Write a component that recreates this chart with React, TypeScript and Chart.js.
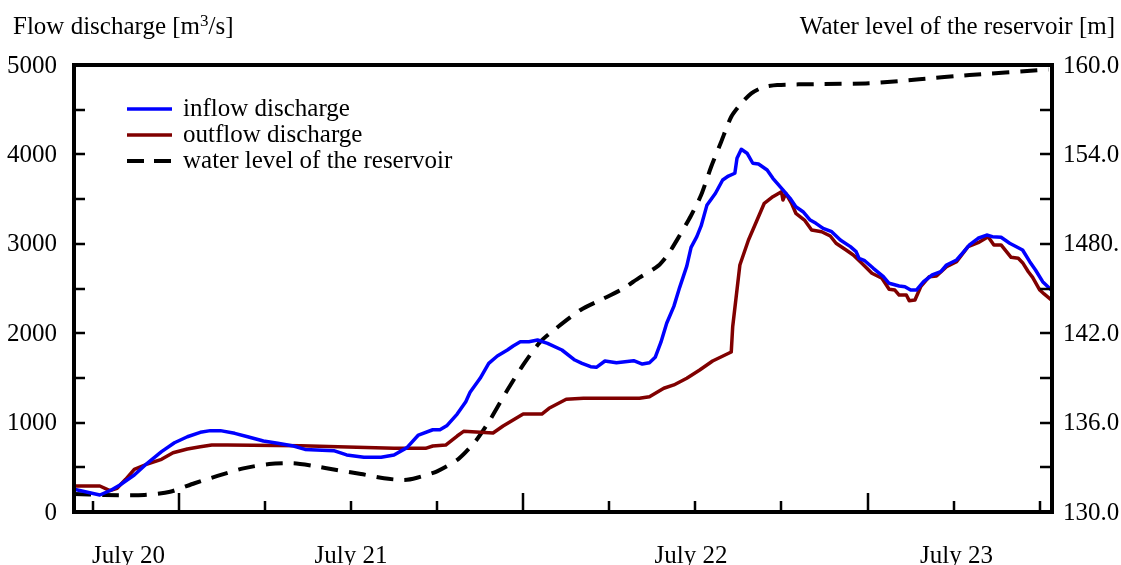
import { useEffect, useRef } from 'react';
import { Chart, registerables } from 'chart.js';

Chart.register(...registerables);

const FONT = '"Liberation Serif", "Times New Roman", serif';

// hours counted from July 20, 00:00
const inflowTime = [16.7, 18.5, 19.3, 19.9, 20.9, 21.8, 22.8, 23.7, 24.6, 25.5, 26.2, 26.9, 27.9, 28.8, 29.9, 30.9, 32.0, 32.8, 34.8, 35.7, 36.9, 38.1, 39.0, 39.9, 40.7, 41.7, 42.2, 42.7, 43.4, 44.0, 44.3, 45.0, 45.6, 46.2, 46.9, 47.3, 47.8, 48.4, 49.0, 49.7, 50.7, 51.6, 52.1, 52.7, 53.1, 53.7, 54.5, 55.7, 56.3, 56.8, 57.2, 57.6, 58.0, 58.5, 58.9, 59.4, 59.7, 60.1, 60.4, 60.8, 61.4, 61.9, 62.3, 62.75, 62.9, 63.2, 63.6, 64.0, 64.4, 65.0, 65.4, 66.1, 66.6, 67.0, 67.5, 68.0, 68.4, 68.9, 69.5, 70.1, 70.8, 71.2, 71.4, 71.8, 72.4, 73.1, 73.5, 74.2, 74.6, 75.0, 75.4, 75.9, 76.5, 77.1, 77.5, 78.2, 78.6, 79.1, 79.7, 80.3, 80.7, 81.3, 81.9, 82.8, 83.3, 83.7, 84.2, 84.8];
const inflowValues = [254, 190, 246, 302, 414, 545, 675, 775, 842, 891, 910, 910, 880, 842, 794, 768, 738, 700, 686, 638, 612, 612, 638, 720, 861, 920, 920, 968, 1095, 1234, 1340, 1496, 1663, 1745, 1812, 1857, 1905, 1905, 1924, 1887, 1812, 1700, 1663, 1625, 1618, 1689, 1670, 1693, 1655, 1670, 1730, 1900, 2111, 2300, 2510, 2750, 2960, 3080, 3200, 3430, 3565, 3714, 3758, 3789, 3956, 4057, 4013, 3901, 3893, 3826, 3733, 3602, 3509, 3415, 3359, 3266, 3229, 3173, 3135, 3042, 2968, 2912, 2838, 2811, 2726, 2632, 2558, 2528, 2520, 2483, 2483, 2576, 2651, 2688, 2763, 2819, 2894, 2987, 3062, 3098, 3080, 3073, 3006, 2931, 2800, 2707, 2576, 2483];

const outflowTime = [16.7, 18.5, 19.2, 19.7, 20.3, 20.9, 21.8, 22.8, 23.6, 24.6, 25.5, 26.3, 27.4, 32.5, 39.0, 41.2, 41.7, 42.6, 43.4, 43.85, 45.9, 46.6, 48.0, 49.3, 49.8, 51.0, 52.2, 56.1, 56.8, 57.8, 58.5, 59.4, 60.3, 61.2, 62.5, 62.6, 63.1, 63.7, 64.3, 64.8, 65.4, 66.0, 66.1, 66.3, 66.7, 67.0, 67.6, 68.1, 68.8, 69.4, 69.8, 70.5, 71.0, 71.6, 72.3, 73.0, 73.5, 73.9, 74.2, 74.7, 74.9, 75.3, 75.7, 76.3, 76.8, 77.5, 78.2, 79.0, 79.7, 80.4, 80.8, 81.3, 82.0, 82.5, 82.8, 83.2, 83.5, 84.0, 84.3, 84.8];
const outflowValues = [291, 291, 239, 265, 366, 477, 537, 589, 663, 705, 730, 749, 749, 742, 712, 712, 738, 749, 850, 902, 884, 962, 1096, 1096, 1160, 1261, 1272, 1272, 1290, 1384, 1421, 1496, 1588, 1689, 1790, 2073, 2763, 3043, 3266, 3453, 3527, 3583, 3490, 3565, 3453, 3341, 3266, 3154, 3135, 3087, 3006, 2931, 2875, 2782, 2670, 2614, 2491, 2483, 2427, 2427, 2364, 2371, 2520, 2632, 2640, 2744, 2800, 2968, 3012, 3080, 2987, 2987, 2849, 2838, 2789, 2688, 2625, 2483, 2439, 2371];

const levelTime = [16.7, 18.8, 21.6, 23.4, 25.1, 26.7, 28.5, 30.3, 32.0, 33.4, 35.0, 36.7, 38.3, 39.7, 40.6, 42.0, 43.5, 44.7, 45.7, 46.9, 48.0, 49.2, 50.3, 52.0, 53.4, 54.8, 56.1, 57.4, 58.1, 58.9, 59.7, 60.4, 61.1, 61.8, 62.5, 63.2, 63.9, 64.7, 65.7, 68.7, 72.1, 75.6, 79.1, 84.1, 84.6];
const levelValues = [131.21, 131.14, 131.14, 131.36, 131.93, 132.42, 132.93, 133.22, 133.27, 133.09, 132.82, 132.55, 132.26, 132.15, 132.30, 132.73, 133.57, 134.78, 136.2, 138.19, 139.87, 141.43, 142.33, 143.56, 144.23, 144.90, 145.73, 146.52, 147.3, 148.55, 149.9, 151.27, 153.17, 154.85, 156.53, 157.43, 158.10, 158.50, 158.66, 158.72, 158.77, 159.04, 159.33, 159.66, 159.7];

// axes
const xMin = 16.7;
const xMax = 84.85;
const xTicks = [18, 24, 30, 36, 42, 48, 54, 60, 66, 72, 78, 84];
const xMajorTicks = [24, 48, 72];
const xLabels = ['July 20', 'July 21', 'July 22', 'July 23'];
const xLabelPos = [20.5, 36, 59.7, 78.2];

const leftTicks = [500, 1000, 1500, 2000, 2500, 3000, 3500, 4000, 4500];
const leftLabelValues = [0, 1000, 2000, 3000, 4000, 5000];
const rightTicks = [133, 136, 139, 142, 145, 148, 151, 154, 157];
const rightLabelValues = [130, 136, 142, 148, 154, 160];
const rightLabels = ['130.0', '136.0', '142.0', '1480.', '154.0', '160.0'];

const seriesNames = ['inflow discharge', 'outflow discharge', 'water level of the reservoir'];
const seriesColors = ['#0000ff', '#800000', '#000000'];

const zip = (xs: number[], ys: number[]) => xs.map((x, i) => ({ x, y: ys[i] }));

const decor = {
  id: 'decor',
  afterDatasetsDraw(chart: any) {
    const ctx: CanvasRenderingContext2D = chart.ctx;
    const { left, top, right, bottom } = chart.chartArea;
    const sx = chart.scales.x;
    const sy = chart.scales.y;
    const sy2 = chart.scales.y2;
    ctx.save();
    ctx.strokeStyle = '#000';
    ctx.fillStyle = '#000';

    // frame
    ctx.lineWidth = 4;
    ctx.setLineDash([]);
    ctx.strokeRect(left, top, right - left, bottom - top);

    // ticks
    ctx.lineWidth = 2.5;
    ctx.beginPath();
    leftTicks.forEach((v) => {
      const y = Math.round(sy.getPixelForValue(v));
      ctx.moveTo(left, y);
      ctx.lineTo(left + 11, y);
    });
    rightTicks.forEach((v) => {
      const y = Math.round(sy2.getPixelForValue(v));
      ctx.moveTo(right, y);
      ctx.lineTo(right - 12, y);
    });
    xTicks.forEach((v) => {
      const x = Math.round(sx.getPixelForValue(v));
      const len = xMajorTicks.includes(v) ? 19 : 11;
      ctx.moveTo(x, bottom);
      ctx.lineTo(x, bottom - len);
    });
    ctx.stroke();

    // tick labels
    ctx.font = `25px ${FONT}`;
    ctx.textBaseline = 'middle';
    ctx.textAlign = 'right';
    leftLabelValues.forEach((v) => {
      ctx.fillText(String(v), left - 17, sy.getPixelForValue(v) + 1);
    });
    ctx.textAlign = 'left';
    rightLabelValues.forEach((v, i) => {
      ctx.fillText(rightLabels[i], right + 11, sy2.getPixelForValue(v) + 1);
    });
    ctx.textAlign = 'center';
    ctx.textBaseline = 'alphabetic';
    xLabels.forEach((t, i) => {
      ctx.fillText(t, sx.getPixelForValue(xLabelPos[i]), 563);
    });

    // axis titles
    ctx.textAlign = 'left';
    const part1 = 'Flow discharge [m';
    ctx.fillText(part1, 13, 34);
    const w = ctx.measureText(part1).width;
    ctx.font = `17px ${FONT}`;
    ctx.fillText('3', 13 + w, 26);
    const w3 = ctx.measureText('3').width;
    ctx.font = `25px ${FONT}`;
    ctx.fillText('/s]', 13 + w + w3, 34);
    ctx.textAlign = 'right';
    ctx.fillText('Water level of the reservoir [m]', 1115, 34);

    // legend
    ctx.textAlign = 'left';
    ctx.textBaseline = 'middle';
    seriesNames.forEach((name, i) => {
      const y = 109 + i * 26;
      ctx.strokeStyle = seriesColors[i];
      ctx.lineWidth = i === 2 ? 4 : 3.5;
      ctx.setLineDash(i === 2 ? [17, 10] : []);
      ctx.beginPath();
      ctx.moveTo(127, y);
      ctx.lineTo(172, y);
      ctx.stroke();
      ctx.setLineDash([]);
      ctx.fillStyle = '#000';
      ctx.fillText(name, 183, y);
    });
    ctx.restore();
  },
};

export default function App() {
  const ref = useRef<HTMLCanvasElement>(null);
  useEffect(() => {
    const chart = new Chart(ref.current as HTMLCanvasElement, {
      type: 'line',
      data: {
        datasets: [
          {
            label: seriesNames[0],
            data: zip(inflowTime, inflowValues),
            borderColor: seriesColors[0],
            borderWidth: 3.5,
            pointRadius: 0,
            tension: 0,
            borderJoinStyle: 'round',
            yAxisID: 'y',
          },
          {
            label: seriesNames[1],
            data: zip(outflowTime, outflowValues),
            borderColor: seriesColors[1],
            borderWidth: 3.5,
            pointRadius: 0,
            tension: 0,
            borderJoinStyle: 'round',
            yAxisID: 'y',
          },
          {
            label: seriesNames[2],
            data: zip(levelTime, levelValues),
            borderColor: seriesColors[2],
            borderWidth: 4,
            borderDash: [17, 11],
            pointRadius: 0,
            tension: 0.25,
            yAxisID: 'y2',
          },
        ],
      } as any,
      options: {
        responsive: false,
        animation: false,
        devicePixelRatio: 1,
        layout: { padding: { left: 74, top: 65, right: 69, bottom: 53 } },
        plugins: { legend: { display: false }, tooltip: { enabled: false } },
        scales: {
          x: { type: 'linear', min: xMin, max: xMax, display: false },
          y: { type: 'linear', min: 0, max: 5000, display: false },
          y2: { type: 'linear', min: 130, max: 160, display: false, position: 'right' },
        },
      } as any,
      plugins: [decor],
    });
    return () => chart.destroy();
  }, []);
  return (
    <div style={{ position: 'fixed', left: 0, top: 0, width: 1121, height: 565, background: '#fff' }}>
      <canvas ref={ref} width={1121} height={565} style={{ display: 'block' }} />
    </div>
  );
}
